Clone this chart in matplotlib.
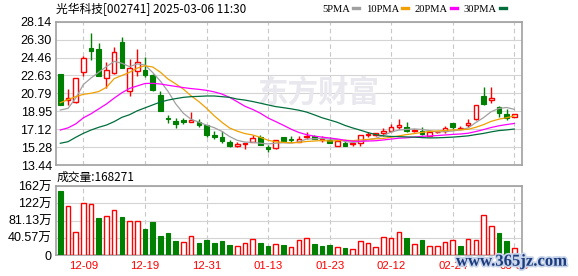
import numpy as np
import matplotlib.pyplot as plt
from matplotlib.lines import Line2D
import matplotlib.patheffects as pe

plt.rcParams['font.family'] = ['Liberation Sans', 'Noto Sans CJK SC', 'DejaVu Sans']

title = '光华科技[002741] 2025-03-06 11:30'
volLabel = '成交量:168271'

opens = [22.78, 20.10, 19.93, 23.01, 25.44, 25.34, 22.40, 22.91, 26.06, 21.06,
         23.11, 23.19, 22.67, 20.62, 18.23, 17.99, 18.06, 17.82, 17.85, 17.58,
         16.49, 16.35, 15.80, 15.39, 15.63, 15.80, 16.28, 15.32, 15.22, 16.28,
         16.14, 15.80, 16.35, 16.42, 16.00, 16.00, 15.42, 15.73, 15.60, 15.67,
         16.52, 16.55, 16.69, 16.96, 17.37, 17.30, 16.90, 16.93, 16.45, 16.80,
         16.96, 17.75, 17.10, 17.51, 18.16, 20.49, 20.11, 19.42, 18.67, 18.33]
highs = [22.80, 21.21, 22.34, 24.65, 27.01, 25.92, 24.04, 25.51, 26.60, 24.28,
         25.31, 24.49, 22.75, 21.03, 18.60, 18.26, 18.23, 18.88, 18.13, 17.58,
         16.96, 16.93, 16.00, 15.80, 15.70, 16.52, 16.49, 15.46, 16.00, 16.35,
         16.42, 16.45, 16.86, 16.50, 16.42, 16.35, 15.95, 15.93, 15.67, 16.52,
         16.86, 16.76, 17.27, 17.65, 18.19, 17.85, 17.10, 17.30, 16.90, 16.93,
         17.44, 17.75, 17.44, 18.13, 19.56, 21.44, 21.44, 19.50, 19.16, 18.70]
lows = [19.63, 19.63, 19.77, 22.60, 24.21, 22.60, 21.31, 22.74, 23.42, 20.52,
        22.57, 22.44, 21.03, 19.01, 17.78, 17.27, 17.65, 17.82, 17.37, 16.35,
        16.14, 15.73, 15.26, 15.32, 15.05, 15.80, 15.46, 14.74, 15.05, 15.90,
        15.80, 15.80, 16.08, 16.10, 15.80, 15.67, 15.42, 15.42, 15.35, 15.39,
        16.28, 16.45, 16.45, 16.90, 17.14, 16.83, 16.80, 16.49, 16.45, 16.75,
        16.76, 17.10, 17.10, 17.37, 18.06, 19.60, 19.83, 18.40, 18.06, 18.33]
closes = [19.63, 20.30, 22.34, 24.39, 25.17, 22.60, 23.19, 25.00, 23.42, 23.42,
          24.01, 22.67, 21.14, 19.01, 18.13, 17.62, 17.82, 18.06, 17.58, 16.55,
          16.35, 15.93, 15.39, 15.63, 15.67, 16.21, 15.46, 15.05, 16.00, 15.90,
          16.00, 16.14, 16.45, 16.14, 16.11, 15.67, 15.93, 15.42, 15.65, 16.52,
          16.62, 16.69, 16.93, 17.34, 17.51, 16.96, 16.98, 16.62, 16.79, 16.85,
          17.20, 17.30, 17.20, 17.75, 19.56, 19.70, 20.36, 18.81, 18.26, 18.64]
# volume in 万
volumes = [150.5, 115.2, 54.1, 121.6, 119.2, 87.0, 91.7, 105.8, 89.4, 80.0,
           80.0, 61.2, 77.6, 44.7, 51.7, 32.9, 29.8, 43.9, 28.2, 35.3,
           28.2, 32.9, 23.5, 21.2, 27.4, 36.8, 27.4, 21.2, 25.1, 23.5,
           18.1, 35.3, 39.2, 25.9, 21.2, 23.5, 18.1, 16.5, 13.3, 32.2,
           27.4, 18.1, 43.1, 39.2, 53.3, 39.2, 25.1, 35.3, 20.4, 20.4,
           29.8, 35.3, 20.4, 36.8, 35.3, 93.3, 67.5, 51.0, 32.9, 16.83]

ma5 = [19.08, 19.25, 20.30, 21.70, 22.37, 22.96, 23.54, 24.07, 23.88, 23.53,
       23.81, 23.70, 22.93, 22.05, 20.99, 19.71, 18.74, 18.13, 17.84, 17.53,
       17.27, 16.89, 16.36, 15.97, 15.79, 15.77, 15.67, 15.60, 15.68, 15.72,
       15.68, 15.82, 16.10, 16.13, 16.16, 16.10, 16.06, 15.85, 15.75, 15.84,
       16.03, 16.18, 16.48, 16.82, 17.02, 17.09, 17.14, 17.08, 16.97, 16.83,
       16.86, 16.93, 17.05, 17.24, 17.80, 18.30, 18.91, 19.24, 19.34, 19.15]
ma10 = [19.83, 20.15, 20.45, 20.69, 20.80, 20.98, 21.41, 22.30, 22.62, 22.95,
        23.38, 23.62, 23.50, 22.96, 22.26, 21.76, 21.22, 20.53, 19.95, 19.26,
        18.49, 17.82, 17.24, 16.91, 16.66, 16.52, 16.28, 15.98, 15.82, 15.76,
        15.72, 15.75, 15.85, 15.90, 15.95, 15.90, 15.94, 15.98, 15.94, 16.01,
        16.07, 16.12, 16.17, 16.29, 16.43, 16.56, 16.66, 16.78, 16.89, 16.93,
        16.98, 17.04, 17.06, 17.10, 17.31, 17.58, 17.92, 18.14, 18.29, 18.48]
ma20 = [17.03, 17.25, 17.65, 18.28, 18.70, 19.20, 19.70, 20.30, 20.85, 21.30,
        21.55, 21.80, 21.82, 21.75, 21.62, 21.50, 21.38, 21.28, 21.20, 21.10,
        20.94, 20.72, 20.37, 19.93, 19.46, 19.14, 18.75, 18.26, 17.89, 17.51,
        17.11, 16.78, 16.55, 16.40, 16.30, 16.21, 16.11, 15.98, 15.88, 15.88,
        15.90, 15.93, 16.01, 16.10, 16.19, 16.23, 16.30, 16.38, 16.42, 16.46,
        16.52, 16.58, 16.62, 16.70, 16.87, 17.07, 17.29, 17.46, 17.59, 17.70]
ma30 = [15.67, 15.83, 16.28, 16.69, 17.03, 17.31, 17.54, 17.89, 18.33, 18.60,
        19.00, 19.30, 19.60, 19.90, 20.10, 20.25, 20.38, 20.45, 20.48, 20.52,
        20.52, 20.45, 20.38, 20.20, 20.10, 19.95, 19.78, 19.60, 19.43, 19.32,
        19.20, 19.06, 18.87, 18.59, 18.29, 18.06, 17.82, 17.50, 17.24, 17.01,
        16.76, 16.56, 16.42, 16.37, 16.35, 16.32, 16.30, 16.25, 16.22, 16.23,
        16.26, 16.30, 16.36, 16.43, 16.56, 16.68, 16.84, 16.97, 17.04, 17.13]

maNames = ['5PMA', '10PMA', '20PMA', '30PMA']
maColors = ['#a0a0a0', '#f0a000', '#ff00ff', '#006e3c']

priceTickLabels = ['13.44', '15.28', '17.12', '18.95', '20.79', '22.63', '24.46', '26.30', '28.14']
volTickValues = [0, 40.57, 81.13, 121.70, 162.27]
volTickLabels = ['0', '40.57万', '81.13万', '122万', '162万']
dateLabels = ['12-09', '12-19', '12-31', '01-13', '01-23', '02-12', '02-24', '03-06']
dateIdx = [3, 11, 19, 27, 35, 43, 51, 59]

RED = '#ff0000'
GREEN = '#008000'
GRID = '#d4d4d4'
SPINE = '#a0a0a0'


def styleAx(ax):
  for s in ax.spines.values():
    s.set_color(SPINE)
    s.set_linewidth(1.2)
  ax.tick_params(length=0, labelsize=9, pad=3)
  ax.set_axisbelow(True)
  ax.grid(axis='y', color=GRID, linewidth=0.8)
  ax.grid(axis='x', color='#c8c8c8', linewidth=0.8, linestyle=(0, (4, 3)))
  ax.set_xlim(-0.56, 60.0)
  ax.set_xticks(dateIdx)


def main():
  o = np.array(opens)
  h = np.array(highs)
  l = np.array(lows)
  c = np.array(closes)
  v = np.array(volumes)
  x = np.arange(len(c))
  up = c >= o
  volUp = np.r_[False, c[1:] >= c[:-1]]

  fig = plt.figure(figsize=(5.78, 2.76), dpi=100)
  W, H = 578.0, 276.0
  axP = fig.add_axes([56 / W, 1 - 165 / H, 466 / W, 143.3 / H])
  axV = fig.add_axes([56 / W, 1 - 255 / H, 466 / W, 69 / H])

  # price panel
  styleAx(axP)
  lo, hi = 13.44, 28.14
  axP.set_ylim(lo, hi)
  axP.set_yticks(np.linspace(lo, hi, len(priceTickLabels)))
  axP.set_yticklabels(priceTickLabels)
  axP.set_xticklabels([])

  axP.text(0.563, 0.506, '东方财富', transform=axP.transAxes, ha='center', va='center',
           fontsize=22, fontweight='bold', color='#e8e8ee', family=['Noto Sans CJK SC'], zorder=0.6)

  colors = np.where(up, RED, GREEN)
  axP.vlines(x, l, h, colors=colors, linewidth=1.0, zorder=2)
  bottom = np.minimum(o, c)
  height = np.maximum(np.abs(c - o), 0.04)
  axP.bar(x[up], height[up], bottom=bottom[up], width=0.6, facecolor='white',
          edgecolor=RED, linewidth=1.0, zorder=3)
  axP.bar(x[~up], height[~up], bottom=bottom[~up], width=0.6, facecolor=GREEN,
          edgecolor=GREEN, linewidth=0.8, zorder=3)

  for series, col in zip([ma5, ma10, ma20, ma30], maColors):
    axP.plot(x, series, color=col, linewidth=0.9, zorder=4)

  handles = [Line2D([], [], color=col, linewidth=2.4) for col in maColors]
  fig.legend(handles, maNames, ncol=4, markerfirst=False, frameon=False,
             loc='center right', bbox_to_anchor=(0.885, 0.966),
             handlelength=0.6, handletextpad=0.3, columnspacing=0.6,
             borderpad=0, prop={'family': 'Liberation Serif', 'size': 7.6})

  # volume panel
  styleAx(axV)
  axV.set_ylim(0, 162.27)
  axV.set_yticks(volTickValues)
  axV.set_yticklabels(volTickLabels)
  axV.set_xticklabels(dateLabels, color=RED, fontsize=8.2)
  axV.tick_params(axis='x', pad=4)
  axV.bar(x[volUp], v[volUp], width=0.6, facecolor='white', edgecolor=RED, linewidth=1.0, zorder=3)
  axV.bar(x[~volUp], v[~volUp], width=0.6, facecolor=GREEN, edgecolor=GREEN, linewidth=0.8, zorder=3)

  fig.text(56 / W, 1 - 9 / H, title, ha='left', va='center', fontsize=8.5,
           family=['Noto Sans CJK SC', 'DejaVu Sans'])
  fig.text(57 / W, 1 - 177.5 / H, volLabel, ha='left', va='center', fontsize=8.5,
           family=['Noto Sans CJK SC', 'DejaVu Sans'])

  fig.text(0.885, 0.052, 'www.365jz.com', ha='center', va='center', fontsize=12,
           color='#1b3b7d', family='Liberation Serif', fontweight='bold',
           path_effects=[pe.withStroke(linewidth=2.5, foreground='#c9d5ea')])

  fig.savefig('out.png', dpi=100)


if __name__ == '__main__':
  main()
